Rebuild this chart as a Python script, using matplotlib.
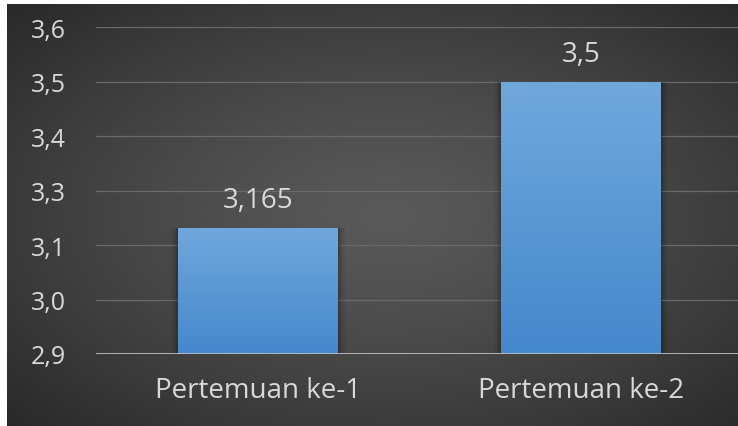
import numpy as np
import matplotlib
matplotlib.use("Agg")
import matplotlib.pyplot as plt

categories = ["Pertemuan ke-1", "Pertemuan ke-2"]
values = [3.165, 3.5]
value_labels = ["3,165", "3,5"]
y_ticks = [2.875, 3.0, 3.125, 3.25, 3.375, 3.5, 3.625]
y_tick_labels = ["2,9", "3,0", "3,1", "3,3", "3,4", "3,5", "3,6"]

W, H = 738, 427
fig = plt.figure(figsize=(W / 100, H / 100), dpi=100, facecolor="white")

# background panel with radial gradient
bg = fig.add_axes([7 / W, 0, (W - 7) / W, (H - 5) / H])
bg.set_axis_off()
yy, xx = np.mgrid[0:1:300j, 0:1:500j]
r = np.sqrt(((xx - 0.52) / 0.75) ** 2 + ((yy - 0.5) / 0.75) ** 2)
r = np.clip(r, 0, 1)
lum = 0.35 - (0.35 - 0.15) * r ** 1.3
img = np.dstack([lum, lum, lum])
bg.imshow(img, extent=[0, 1, 0, 1], aspect="auto", origin="lower")
bg.set_xlim(0, 1)
bg.set_ylim(0, 1)

font = "Open Sans"
txt = "#d9d9d9"

ax = fig.add_axes([96.5 / W, 72 / H, 646 / W, 327 / H])
ax.set_facecolor("none")
x = np.arange(len(categories))

# soft shadow behind bars
for off, a in [(0.022, 0.06), (0.012, 0.09), (0.005, 0.12)]:
    ax.bar(x, [v - y_ticks[0] for v in values], bottom=y_ticks[0],
           width=0.495 + 2 * off, color="black", alpha=a, zorder=2, linewidth=0)

bars = ax.bar(x, [v - y_ticks[0] for v in values], bottom=y_ticks[0],
              width=0.495, color="#5b9bd5", zorder=3, linewidth=0)

grad = np.linspace(0, 1, 256).reshape(-1, 1)
top_c = np.array([0x70, 0xa8, 0xdc]) / 255
bot_c = np.array([0x45, 0x88, 0xcc]) / 255
gimg = bot_c[None, None, :] * (1 - grad[..., None]) + top_c[None, None, :] * grad[..., None]
for b in bars:
    x0, y0 = b.get_x(), b.get_y()
    w, h = b.get_width(), b.get_height()
    im = ax.imshow(gimg, extent=[x0, x0 + w, y0, y0 + h], origin="lower",
                   aspect="auto", zorder=3.5)
    im.set_clip_path(b)

ax.set_xlim(-0.5, len(categories) - 0.5)
ax.set_ylim(y_ticks[0], y_ticks[-1])

for t in y_ticks[1:]:
    ax.axhline(t, color="#6a6a6a", linewidth=0.9, zorder=1)
ax.axhline(y_ticks[0], color="#bfbfbf", linewidth=2, zorder=5)

for xi, v, lab in zip(x, values, value_labels):
    ax.annotate(lab, (xi, v), xytext=(0, 19.5), textcoords="offset points",
                ha="center", va="center", color=txt, fontsize=20, family=font)

ax.set_yticks(y_ticks)
ax.set_yticklabels(y_tick_labels, fontsize=18, color=txt, family=font)
ax.set_xticks(x)
ax.set_xticklabels(categories, fontsize=20, color=txt, family=font)
ax.tick_params(axis="y", length=0, pad=22)
ax.tick_params(axis="x", length=0, pad=16)
for s in ax.spines.values():
    s.set_visible(False)

fig.savefig("out.png", dpi=100, facecolor="white")
